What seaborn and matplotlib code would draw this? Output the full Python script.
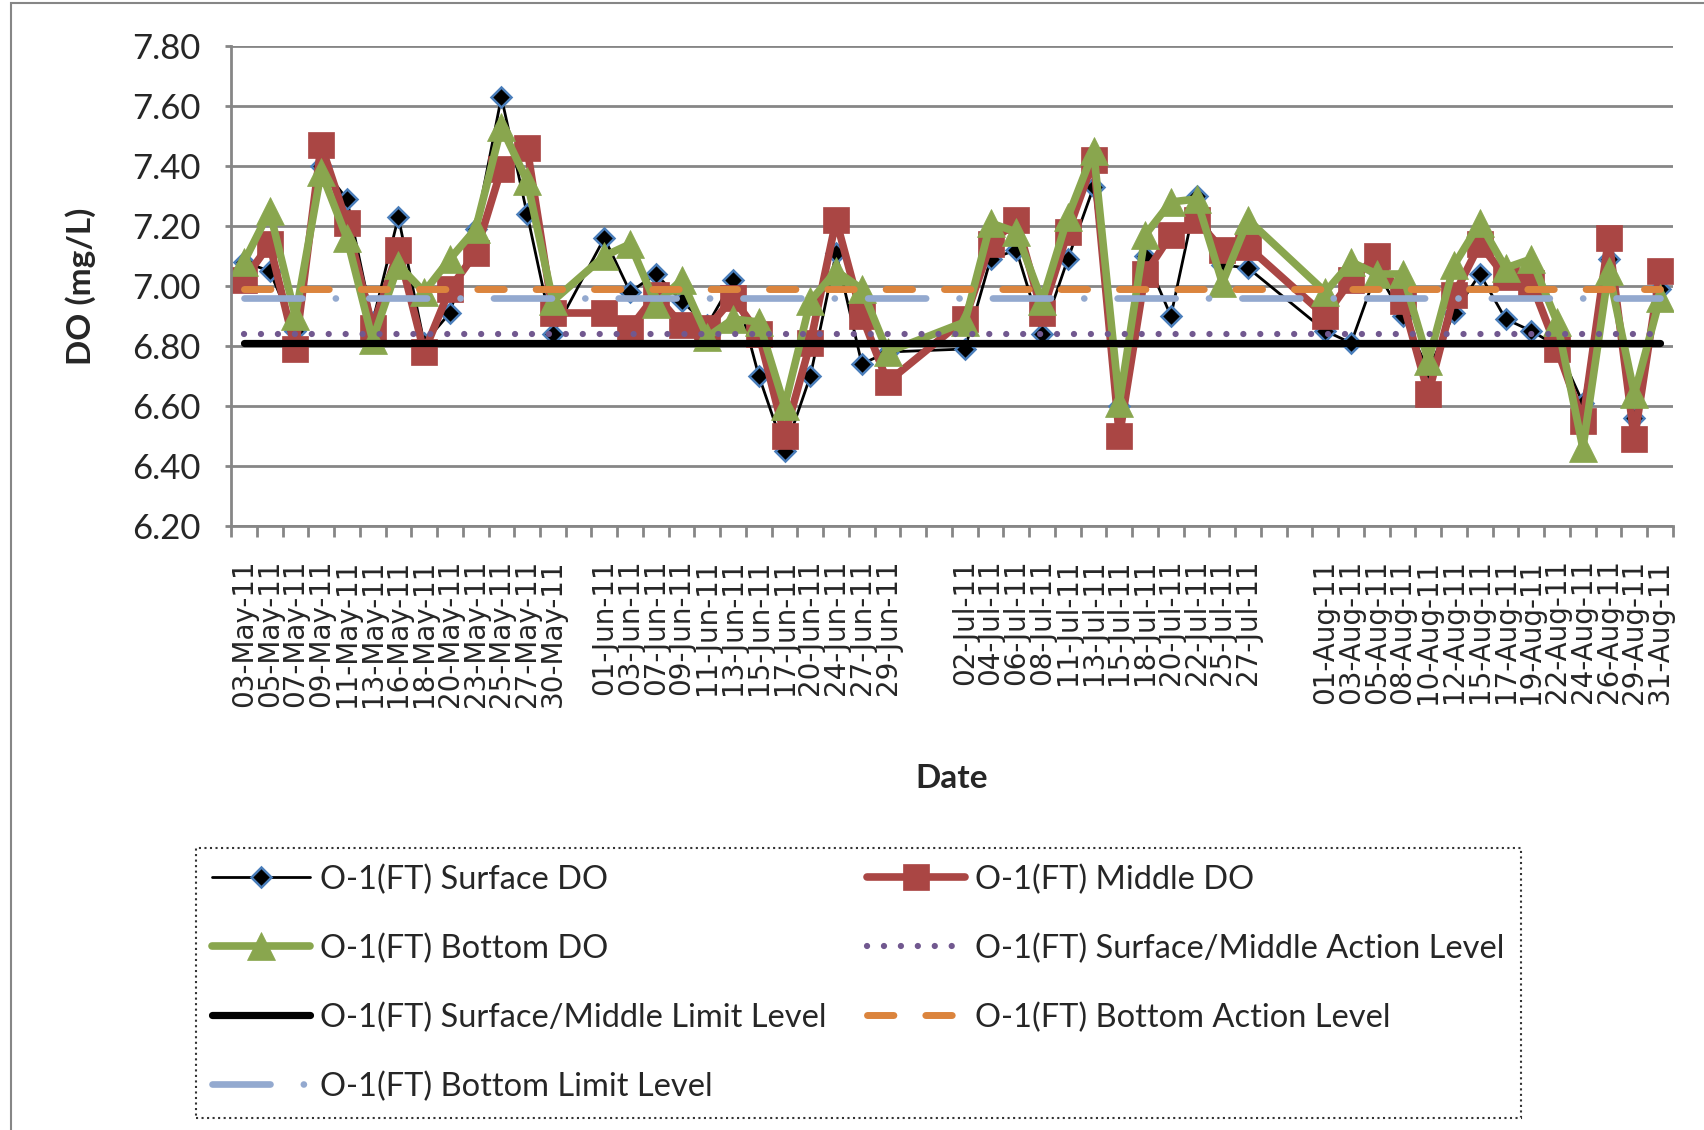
import numpy as np
import pandas as pd
import seaborn as sns
import matplotlib.pyplot as plt

# category axis of the sheet, blank rows between the months
dates = ['03-May-11', '05-May-11', '07-May-11', '09-May-11', '11-May-11', '13-May-11', '16-May-11',
         '18-May-11', '20-May-11', '23-May-11', '25-May-11', '27-May-11', '30-May-11', '',
         '01-Jun-11', '03-Jun-11', '07-Jun-11', '09-Jun-11', '11-Jun-11', '13-Jun-11', '15-Jun-11',
         '17-Jun-11', '20-Jun-11', '24-Jun-11', '27-Jun-11', '29-Jun-11', '', '',
         '02-Jul-11', '04-Jul-11', '06-Jul-11', '08-Jul-11', '11-Jul-11', '13-Jul-11', '15-Jul-11',
         '18-Jul-11', '20-Jul-11', '22-Jul-11', '25-Jul-11', '27-Jul-11', '', '',
         '01-Aug-11', '03-Aug-11', '05-Aug-11', '08-Aug-11', '10-Aug-11', '12-Aug-11', '15-Aug-11',
         '17-Aug-11', '19-Aug-11', '22-Aug-11', '24-Aug-11', '26-Aug-11', '29-Aug-11', '31-Aug-11']

surface_do = [7.08, 7.05, 6.85, 7.40, 7.29, 6.88, 7.23, 6.81, 6.91, 7.19, 7.63, 7.24, 6.84, None,
              7.16, 6.98, 7.04, 6.95, 6.87, 7.02, 6.70, 6.45, 6.70, 7.11, 6.74, 6.78, None, None,
              6.79, 7.09, 7.12, 6.84, 7.09, 7.33, 6.60, 7.10, 6.90, 7.30, 7.07, 7.06, None, None,
              6.85, 6.81, 7.05, 6.90, 6.72, 6.91, 7.04, 6.89, 6.85, 6.80, 6.61, 7.09, 6.56, 6.99]

middle_do = [7.02, 7.14, 6.79, 7.47, 7.21, 6.86, 7.12, 6.78, 6.99, 7.11, 7.39, 7.46, 6.91, None,
             6.91, 6.86, 6.97, 6.87, 6.86, 6.96, 6.84, 6.50, 6.81, 7.22, 6.90, 6.68, None, None,
             6.89, 7.14, 7.22, 6.91, 7.18, 7.42, 6.50, 7.04, 7.17, 7.22, 7.12, 7.13, None, None,
             6.90, 7.02, 7.10, 6.95, 6.64, 6.97, 7.14, 7.03, 7.01, 6.79, 6.55, 7.16, 6.49, 7.05]

bottom_do = [7.08, 7.25, 6.90, 7.38, 7.16, 6.82, 7.07, 6.98, 7.09, 7.19, 7.53, 7.35, 6.95, None,
             7.10, 7.14, 6.94, 7.02, 6.83, 6.89, 6.88, 6.60, 6.95, 7.05, 6.99, 6.78, None, None,
             6.88, 7.21, 7.18, 6.95, 7.23, 7.45, 6.61, 7.17, 7.28, 7.29, 7.01, 7.22, None, None,
             6.98, 7.08, 7.04, 7.04, 6.75, 7.07, 7.21, 7.06, 7.09, 6.88, 6.46, 7.05, 6.64, 6.96]

# action / limit levels
sm_action = 6.84
sm_limit = 6.81
bottom_action = 6.99
bottom_limit = 6.96

y_ticks = [6.20, 6.40, 6.60, 6.80, 7.00, 7.20, 7.40, 7.60, 7.80]

df = pd.DataFrame({'date': dates, 'surface': surface_do, 'middle': middle_do, 'bottom': bottom_do})
df['pos'] = np.arange(len(df))
df['sm_action'] = sm_action
df['sm_limit'] = sm_limit
df['bottom_action'] = bottom_action
df['bottom_limit'] = bottom_limit

sns.set_theme(style='white')
plt.rcParams['font.family'] = ['Lato', 'DejaVu Sans']

W, H = 1704, 1130
fig = plt.figure(figsize=(W / 100, H / 100), dpi=100)
ax = fig.add_axes([231 / W, 1 - 526 / H, 1442 / W, 480 / H])

grey = '#868686'

# data series
sns.lineplot(data=df, x='pos', y='surface', ax=ax, estimator=None, sort=False, legend=False,
             color='black', linewidth=2, marker='D', markersize=10, markerfacecolor='black',
             markeredgecolor='#4A7EBB', markeredgewidth=1.8, label='O-1(FT) Surface DO')
sns.lineplot(data=df, x='pos', y='middle', ax=ax, estimator=None, sort=False, legend=False,
             color='#AA4644', linewidth=5.5, marker='s', markersize=19, markerfacecolor='#AA4644',
             markeredgecolor='#AA4644', markeredgewidth=0.5, label='O-1(FT) Middle DO')
sns.lineplot(data=df, x='pos', y='bottom', ax=ax, estimator=None, sort=False, legend=False,
             color='#89A64E', linewidth=5.5, marker='^', markersize=20, markerfacecolor='#89A64E',
             markeredgecolor='#89A64E', markeredgewidth=0.5, label='O-1(FT) Bottom DO')

# level lines
sns.lineplot(data=df, x='pos', y='sm_action', ax=ax, estimator=None, sort=False, legend=False,
             color='#71588F', linewidth=4.5, linestyle=(0, (0.01, 2.7)), dash_capstyle='round',
             label='O-1(FT) Surface/Middle Action Level')
sns.lineplot(data=df, x='pos', y='sm_limit', ax=ax, estimator=None, sort=False, legend=False,
             color='black', linewidth=5.2, solid_capstyle='round',
             label='O-1(FT) Surface/Middle Limit Level')
sns.lineplot(data=df, x='pos', y='bottom_action', ax=ax, estimator=None, sort=False, legend=False,
             color='#DB843D', linewidth=5, linestyle=(0, (3.8, 4.6)), dash_capstyle='round',
             label='O-1(FT) Bottom Action Level')
sns.lineplot(data=df, x='pos', y='bottom_limit', ax=ax, estimator=None, sort=False, legend=False,
             color='#93A9CF', linewidth=4.8, linestyle=(0, (8.7, 5.0, 0.01, 5.0)), dash_capstyle='round',
             label='O-1(FT) Bottom Limit Level')

# axes
ax.set_xlim(-0.5, len(dates) - 0.5)
ax.set_ylim(6.2, 7.8)
ax.set_yticks(y_ticks)
ax.set_yticklabels(['%.2f' % v for v in y_ticks], fontsize=25)
ax.set_xticks(df['pos'])
ax.set_xticklabels(dates, rotation=90, fontsize=20, family='DejaVu Sans')
ax.set_xticks(np.arange(-0.5, len(dates), 1), minor=True)
ax.tick_params(axis='x', which='major', bottom=True, length=0, pad=24)
ax.tick_params(axis='x', which='minor', bottom=True, length=8, width=2, color=grey)
ax.tick_params(axis='y', which='major', left=True, length=4, width=2, color=grey, pad=18)

ax.grid(axis='y', color=grey, linewidth=2)
ax.set_axisbelow(True)
for s in ['top', 'right']:
    ax.spines[s].set_visible(False)
for s in ['left', 'bottom']:
    ax.spines[s].set_color(grey)
    ax.spines[s].set_linewidth(2)

ax.set_xlabel('Date', fontsize=24, fontweight='bold')
ax.set_ylabel('DO (mg/L)', fontsize=24, fontweight='bold')
ax.xaxis.label.set_va('center')
ax.yaxis.label.set_va('center')
ax.xaxis.set_label_coords(0.5, (526 - 779) / 480)
ax.yaxis.set_label_coords((81 - 231) / 1442, 0.5)

# legend in row order like the sheet
handles, labels = ax.get_legend_handles_labels()
order = [0, 2, 4, 6, 1, 3, 5]
leg = fig.legend([handles[i] for i in order], [labels[i] for i in order],
                 loc='upper left', bbox_to_anchor=(196 / W, 1 - 848 / H), ncol=2,
                 fontsize=23.5, frameon=True, fancybox=False, edgecolor='black',
                 handlelength=3.0, handletextpad=0.3, columnspacing=1.25,
                 labelspacing=1.18, borderpad=0.5, borderaxespad=0)
leg.get_frame().set_linestyle(':')
leg.get_frame().set_linewidth(1.5)

# chart area border (cut at top/left like the source)
fig.add_artist(plt.Rectangle((11 / W, -0.1), 1.2, 1 - 3 / H + 0.1, transform=fig.transFigure,
                             fill=False, edgecolor=grey, linewidth=1.5))

fig.savefig('out.png', dpi=100)
